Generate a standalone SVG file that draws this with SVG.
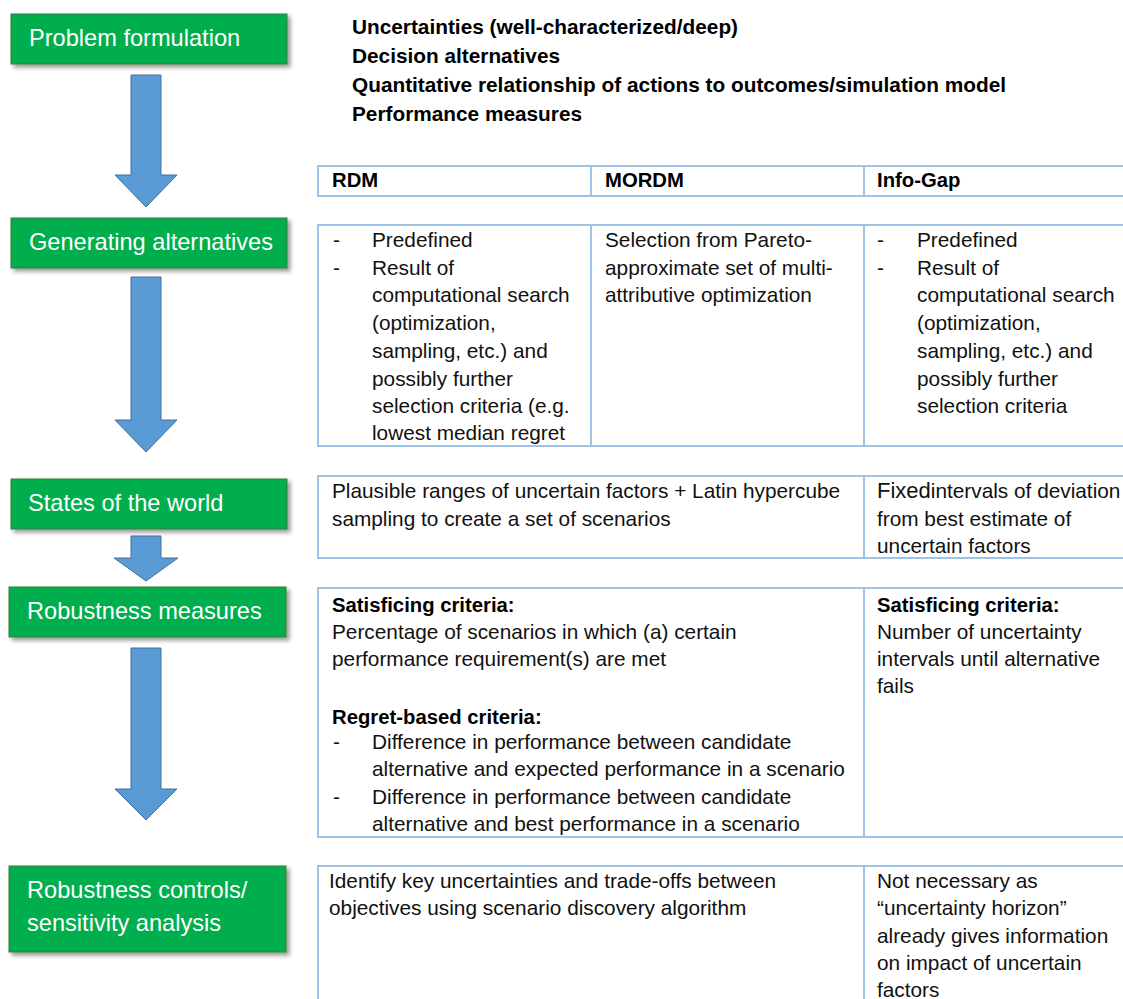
<svg xmlns="http://www.w3.org/2000/svg" width="1123" height="999" viewBox="0 0 1123 999">
<defs>
<filter id="sh" x="-10%" y="-20%" width="125%" height="160%">
<feDropShadow dx="3" dy="3" stdDeviation="2" flood-color="#000" flood-opacity="0.4"/>
</filter>
</defs>
<style>
.box{fill:#00AE4E;stroke:#3F7A3A;stroke-width:1}
.bt{font-family:"Liberation Sans",Arial,Helvetica,sans-serif;font-size:23.6px;fill:#fff}
.arr{fill:#5B9BD5;stroke:#41719C;stroke-width:1}
.t{font-family:"Liberation Sans",Arial,Helvetica,sans-serif;font-size:20.8px;fill:#111}
.b{font-family:"Liberation Sans",Arial,Helvetica,sans-serif;font-size:20.3px;font-weight:bold;fill:#000}
.bi{font-family:"Liberation Sans",Arial,Helvetica,sans-serif;font-size:20.8px;font-weight:bold;fill:#000}
.ln{stroke:#9DC3E6;stroke-width:2;fill:none}
</style>
<rect width="1123" height="999" fill="#fff"/>

<g id="step1"><rect class="box" x="11" y="14" width="276" height="50" filter="url(#sh)"/><text class="bt" x="29" y="46">Problem formulation</text></g>
<g id="step2"><rect class="box" x="11" y="218" width="276" height="50" filter="url(#sh)"/><text class="bt" x="29" y="250">Generating alternatives</text></g>
<g id="step3"><rect class="box" x="11" y="479" width="276" height="50" filter="url(#sh)"/><text class="bt" x="28" y="511">States of the world</text></g>
<g id="step4"><rect class="box" x="9" y="587" width="277" height="50" filter="url(#sh)"/><text class="bt" x="27" y="619">Robustness measures</text></g>
<g id="step5"><rect class="box" x="9" y="866" width="277" height="86" filter="url(#sh)"/><text class="bt" x="27" y="898">Robustness controls/</text><text class="bt" x="27" y="931">sensitivity analysis</text></g>

<g id="connectors">
<path class="arr" d="M131,75 H161 V175 H177 L146,207 L115,175 H131 Z"/>
<path class="arr" d="M131,277 H161 V420 H177 L146,452 L115,420 H131 Z"/>
<path class="arr" d="M131,536 H161 V558 H178 L146,581 L114,558 H131 Z"/>
<path class="arr" d="M131,648 H161 V789 H177 L146,820 L115,789 H131 Z"/>
</g>

<g id="inputs">
<text class="bi" x="352" y="34">Uncertainties (well-characterized/deep)</text>
<text class="bi" x="352" y="63">Decision alternatives</text>
<text class="bi" x="352" y="92">Quantitative relationship of actions to outcomes/simulation model</text>
<text class="bi" x="352" y="121">Performance measures</text>
</g>

<g id="header-row">
<line class="ln" x1="318" y1="166" x2="1125" y2="166"/>
<line class="ln" x1="318" y1="196" x2="1125" y2="196" stroke-width="3"/>
<line class="ln" x1="318" y1="165" x2="318" y2="197"/>
<line class="ln" x1="591" y1="166" x2="591" y2="196"/>
<line class="ln" x1="864" y1="166" x2="864" y2="196"/>
<text class="b" x="332" y="187">RDM</text>
<text class="b" x="605" y="187">MORDM</text>
<text class="b" x="877" y="187">Info-Gap</text>
</g>

<g id="row-alternatives">
<path class="ln" d="M1125,225 H318 V446 H1125"/>
<line class="ln" x1="591" y1="225" x2="591" y2="446"/>
<line class="ln" x1="864" y1="225" x2="864" y2="446"/>
<text class="t" x="333" y="247">-</text><text class="t" x="372" y="247">Predefined</text>
<text class="t" x="333" y="275">-</text><text class="t" x="372" y="275">Result of</text>
<text class="t" x="372" y="302">computational search</text>
<text class="t" x="372" y="330">(optimization,</text>
<text class="t" x="372" y="358">sampling, etc.) and</text>
<text class="t" x="372" y="386">possibly further</text>
<text class="t" x="372" y="413">selection criteria (e.g.</text>
<text class="t" x="372" y="440">lowest median regret</text>
<text class="t" x="605" y="247">Selection from Pareto-</text>
<text class="t" x="605" y="275">approximate set of multi-</text>
<text class="t" x="605" y="302">attributive optimization</text>
<text class="t" x="877" y="247">-</text><text class="t" x="917" y="247">Predefined</text>
<text class="t" x="877" y="275">-</text><text class="t" x="917" y="275">Result of</text>
<text class="t" x="917" y="302">computational search</text>
<text class="t" x="917" y="330">(optimization,</text>
<text class="t" x="917" y="358">sampling, etc.) and</text>
<text class="t" x="917" y="386">possibly further</text>
<text class="t" x="917" y="413">selection criteria</text>
</g>

<g id="row-states">
<path class="ln" d="M1125,476 H318 V558 H1125"/>
<line class="ln" x1="864" y1="476" x2="864" y2="558"/>
<text class="t" x="332" y="498">Plausible ranges of uncertain factors + Latin hypercube</text>
<text class="t" x="332" y="526">sampling to create a set of scenarios</text>
<text class="t" x="877" y="498"><tspan font-size="22">Fixed</tspan>intervals of deviation</text>
<text class="t" x="877" y="526">from best estimate of</text>
<text class="t" x="877" y="553">uncertain factors</text>
</g>

<g id="row-robustness">
<path class="ln" d="M1125,588 H318 V837 H1125"/>
<line class="ln" x1="864" y1="588" x2="864" y2="837"/>
<text class="b" x="332" y="612">Satisficing criteria:</text>
<text class="t" x="332" y="639">Percentage of scenarios in which (a) certain</text>
<text class="t" x="332" y="666">performance requirement(s) are met</text>
<text class="b" x="332" y="724">Regret-based criteria:</text>
<text class="t" x="333" y="749">-</text><text class="t" x="372" y="749">Difference in performance between candidate</text>
<text class="t" x="372" y="776">alternative and expected performance in a scenario</text>
<text class="t" x="333" y="804">-</text><text class="t" x="372" y="804">Difference in performance between candidate</text>
<text class="t" x="372" y="831">alternative and best performance in a scenario</text>
<text class="b" x="877" y="612">Satisficing criteria:</text>
<text class="t" x="877" y="639">Number of uncertainty</text>
<text class="t" x="877" y="666">intervals until alternative</text>
<text class="t" x="877" y="693">fails</text>
</g>

<g id="row-sensitivity">
<path class="ln" d="M1125,866 H318 V1002"/>
<line class="ln" x1="864" y1="866" x2="864" y2="1002"/>
<text class="t" x="329" y="888">Identify key uncertainties and trade-offs between</text>
<text class="t" x="329" y="915">objectives using scenario discovery algorithm</text>
<text class="t" x="877" y="888">Not necessary as</text>
<text class="t" x="877" y="915">“uncertainty horizon”</text>
<text class="t" x="877" y="943">already gives information</text>
<text class="t" x="877" y="970">on impact of uncertain</text>
<text class="t" x="877" y="997">factors</text>
</g>
</svg>
